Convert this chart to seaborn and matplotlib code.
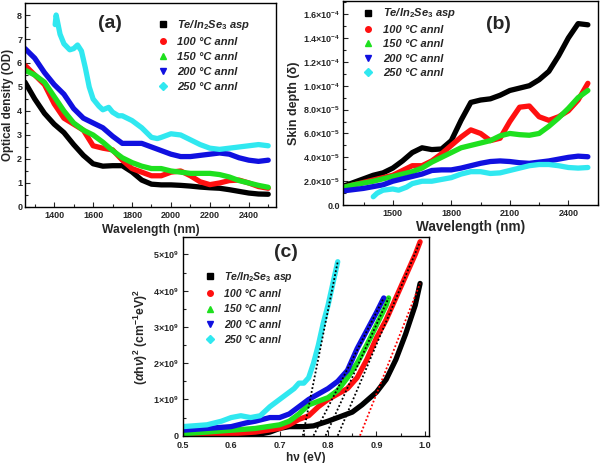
import numpy as np
import pandas as pd
import matplotlib
matplotlib.use("Agg")
import matplotlib.pyplot as plt
import seaborn as sns
from matplotlib.lines import Line2D
from matplotlib.ticker import MultipleLocator, FixedLocator

sns.set_theme(style="ticks")
plt.rcParams['font.family'] = ['Liberation Sans', 'DejaVu Sans']
plt.rcParams['font.weight'] = 'bold'
plt.rcParams['mathtext.fontset'] = 'custom'
plt.rcParams['mathtext.rm'] = 'Liberation Sans:bold'
plt.rcParams['mathtext.bf'] = 'Liberation Sans:bold'
plt.rcParams['mathtext.it'] = 'Liberation Sans:bold:italic'

# ---------------- data ----------------
labels = ["Te/In$_2$Se$_3$ asp", "100 \u00b0C annl", "150 \u00b0C annl", "200 \u00b0C annl", "250 \u00b0C annl"]
colors = ["#000000", "#ff1010", "#1ee01e", "#1010e0", "#30e8f0"]
markers = ["s", "o", "^", "v", "D"]

# (a) optical density
wl_a = [1250, 1300, 1350, 1400, 1450, 1500, 1550, 1600, 1650, 1700, 1750, 1800, 1850,
        1900, 1950, 2000, 2050, 2100, 2150, 2200, 2250, 2300, 2350, 2400, 2450, 2500]
od_asp = [5.2, 4.5, 3.9, 3.45, 3.1, 2.6, 2.15, 1.8, 1.7, 1.72, 1.72, 1.46, 1.12,
          0.95, 0.92, 0.92, 0.9, 0.87, 0.83, 0.8, 0.78, 0.72, 0.65, 0.58, 0.54, 0.53]
od_100 = [5.9, 5.5, 5.1, 4.3, 3.7, 3.45, 3.2, 2.55, 2.45, 2.38, 1.95, 1.6, 1.45,
          1.3, 1.3, 1.45, 1.5, 1.3, 1.05, 0.93, 1.0, 1.1, 1.12, 1.0, 0.85, 0.78]
od_150 = [5.7, 5.5, 5.2, 4.6, 4.0, 3.5, 3.2, 3.0, 2.7, 2.35, 2.05, 1.85, 1.7,
          1.6, 1.6, 1.5, 1.45, 1.4, 1.4, 1.4, 1.35, 1.25, 1.1, 1.0, 0.9, 0.82]
od_200 = [6.6, 6.2, 5.6, 5.1, 4.7, 4.1, 3.7, 3.5, 3.3, 2.95, 2.65, 2.65, 2.65,
          2.5, 2.35, 2.2, 2.1, 2.1, 2.15, 2.2, 2.25, 2.2, 2.05, 1.95, 1.9, 1.95]
wl_a250 = [1405, 1410, 1430, 1450, 1480, 1500, 1520, 1540, 1560, 1580, 1600, 1630, 1650,
           1680, 1700, 1730, 1750, 1800, 1850, 1900, 1930, 1950, 2000, 2050, 2100, 2150,
           2200, 2250, 2300, 2350, 2400, 2450, 2500]
od_250 = [7.6, 8.0, 7.2, 6.8, 6.55, 6.6, 6.75, 6.5, 5.8, 5.0, 4.5, 4.2, 4.05,
          4.15, 3.95, 3.8, 3.8, 3.6, 3.3, 2.9, 2.85, 2.9, 3.05, 3.0, 2.8, 2.6,
          2.45, 2.4, 2.45, 2.5, 2.55, 2.6, 2.55]

# (b) skin depth (x 1e-5)
wl_b = wl_a
sd_asp = [1.6, 1.9, 2.2, 2.5, 2.7, 3.1, 3.7, 4.4, 4.8, 4.65, 4.7, 5.4, 7.1,
          8.6, 8.8, 8.9, 9.2, 9.6, 9.8, 10.0, 10.5, 11.2, 12.5, 14.0, 15.2, 15.1]
sd_100 = [1.5, 1.7, 1.9, 2.1, 2.3, 2.5, 2.9, 3.3, 3.3, 3.7, 4.3, 5.0, 5.7,
          6.3, 6.0, 5.4, 5.6, 7.0, 8.2, 8.3, 7.4, 7.1, 7.4, 7.9, 8.8, 10.2]
sd_150 = [1.5, 1.7, 1.85, 2.0, 2.2, 2.4, 2.6, 2.8, 3.1, 3.6, 4.0, 4.4, 4.8,
          5.0, 5.2, 5.4, 5.8, 6.0, 5.9, 5.85, 6.0, 6.6, 7.3, 8.1, 9.0, 9.6]
sd_200 = [1.2, 1.3, 1.4, 1.55, 1.7, 2.0, 2.2, 2.4, 2.6, 2.9, 2.95, 2.95, 3.1,
          3.3, 3.5, 3.65, 3.7, 3.65, 3.55, 3.5, 3.6, 3.7, 3.85, 4.0, 4.1, 4.05]
wl_b250 = [1400, 1420, 1450, 1500, 1530, 1570, 1600, 1650, 1700, 1750, 1800, 1850, 1900,
           1950, 2000, 2050, 2100, 2150, 2200, 2250, 2300, 2350, 2400, 2450, 2500]
sd_250 = [0.7, 1.0, 1.25, 1.35, 1.25, 1.5, 1.8, 2.0, 2.0, 2.15, 2.3, 2.6, 2.8,
          2.8, 2.65, 2.7, 2.9, 3.1, 3.3, 3.4, 3.4, 3.3, 3.15, 3.1, 3.15]

# (c) Tauc plot (x 1e9)
hv_asp = [0.5, 0.55, 0.6, 0.65, 0.68, 0.7, 0.72, 0.75, 0.77, 0.8, 0.83, 0.85, 0.87,
          0.9, 0.92, 0.94, 0.96, 0.98, 0.99]
ah_asp = [0.0, 0.0, 0.0, 0.02, 0.1, 0.2, 0.25, 0.25, 0.27, 0.4, 0.55, 0.65, 0.85,
          1.2, 1.55, 2.1, 2.8, 3.6, 4.2]
hv_100 = [0.5, 0.6, 0.65, 0.7, 0.72, 0.74, 0.76, 0.78, 0.8, 0.82, 0.84, 0.86, 0.88,
          0.9, 0.92, 0.94, 0.96, 0.98, 0.99]
ah_100 = [0.05, 0.05, 0.1, 0.2, 0.3, 0.45, 0.55, 0.8, 1.0, 1.15, 1.3, 1.6, 2.1,
          2.7, 3.2, 3.8, 4.4, 5.0, 5.35]
hv_150 = [0.5, 0.55, 0.6, 0.65, 0.7, 0.72, 0.74, 0.76, 0.78, 0.8, 0.82, 0.84, 0.86,
          0.88, 0.9, 0.92, 0.925]
ah_150 = [0.05, 0.1, 0.15, 0.2, 0.3, 0.4, 0.6, 0.85, 0.95, 1.05, 1.25, 1.6, 2.0,
          2.5, 3.05, 3.6, 3.8]
hv_200 = [0.5, 0.55, 0.6, 0.63, 0.65, 0.68, 0.7, 0.72, 0.74, 0.76, 0.78, 0.8, 0.82,
          0.84, 0.86, 0.88, 0.9, 0.915]
ah_200 = [0.15, 0.2, 0.25, 0.35, 0.4, 0.5, 0.5, 0.6, 0.8, 1.0, 1.15, 1.3, 1.5,
          1.8, 2.4, 2.9, 3.4, 3.8]
hv_250 = [0.5, 0.55, 0.58, 0.6, 0.62, 0.64, 0.66, 0.68, 0.7, 0.72, 0.73, 0.74, 0.75,
          0.76, 0.77, 0.78, 0.79, 0.8, 0.81, 0.82]
ah_250 = [0.25, 0.3, 0.4, 0.5, 0.55, 0.5, 0.55, 0.8, 1.0, 1.2, 1.3, 1.45, 1.45,
          1.6, 2.0, 2.5, 3.1, 3.6, 4.2, 4.8]
# linear fits (intercept, end point)
fit_x0 = [0.748, 0.77, 0.795, 0.82, 0.866]
fit_x1 = [0.82, 0.915, 0.925, 0.99, 0.99]
fit_y1 = [4.8, 3.8, 3.8, 5.35, 4.2]
fit_col = ["black", "black", "black", "black", "red"]

# ---------------- figure ----------------
fig = plt.figure(figsize=(6.0, 4.63), dpi=100)
ax_a = fig.add_axes([0.0417, 0.553, 0.4183, 0.4405])
ax_b = fig.add_axes([0.5717, 0.557, 0.425, 0.441])
ax_c = fig.add_axes([0.3045, 0.059, 0.411, 0.429])

LW = 3.8

def draw(ax, xs, ys, scale=1.0):
    for x, y, c in zip(xs, ys, colors):
        df = pd.DataFrame({"x": x, "y": np.asarray(y) * scale})
        sns.lineplot(data=df, x="x", y="y", ax=ax, color=c, lw=LW, sort=False,
                     solid_capstyle="round", solid_joinstyle="round", legend=False)

draw(ax_a, [wl_a, wl_a, wl_a, wl_a, wl_a250], [od_asp, od_100, od_150, od_200, od_250])
draw(ax_b, [wl_b, wl_b, wl_b, wl_b, wl_b250], [sd_asp, sd_100, sd_150, sd_200, sd_250], 1e-5)
draw(ax_c, [hv_asp, hv_100, hv_150, hv_200, hv_250], [ah_asp, ah_100, ah_150, ah_200, ah_250], 1e9)
for x0, x1, y1, c in zip(fit_x0, fit_x1, fit_y1, fit_col):
    ax_c.plot([x0, x1], [0, y1 * 1e9], ls=(0, (1, 1.2)), color=c, lw=1.3, zorder=5)

def style(ax):
    for s in ax.spines.values():
        s.set_linewidth(1.0)
        s.set_color("black")
    ax.tick_params(which="both", direction="in", top=False, right=False,
                   labelsize=6.5, width=0.8, pad=2)
    ax.tick_params(which="major", length=3.5)
    ax.tick_params(which="minor", length=2)
    for t in ax.get_xticklabels() + ax.get_yticklabels():
        t.set_fontweight("bold")

def legend(ax, loc, anchor, size=8, spacing=0.45):
    h = [Line2D([], [], marker=m, color=c, ls="none", markersize=4)
         for m, c in zip(markers, colors)]
    ax.legend(h, labels, loc=loc, bbox_to_anchor=anchor, frameon=False,
              prop={"weight": "bold", "style": "italic", "size": size},
              handlelength=1.0, handletextpad=0.8, labelspacing=spacing, borderaxespad=0)

# panel a
ax_a.set_xlim(1250, 2540)
ax_a.set_ylim(0, 8.5)
ax_a.xaxis.set_major_locator(FixedLocator([1400, 1600, 1800, 2000, 2200, 2400]))
ax_a.xaxis.set_minor_locator(MultipleLocator(100))
ax_a.yaxis.set_major_locator(MultipleLocator(1))
ax_a.yaxis.set_minor_locator(MultipleLocator(0.5))
ax_a.set_xlabel("Wavelength (nm)", fontsize=8.7, fontweight="bold", labelpad=3)
ax_a.set_ylabel("Optical density (OD)", fontsize=8.4, fontweight="bold", labelpad=2)
style(ax_a)
ax_a.tick_params(axis="x", pad=3)
legend(ax_a, "upper left", (0.51, 0.95))
ax_a.text(0.34, 0.9, "(a)", transform=ax_a.transAxes, fontsize=14, fontweight="bold",
          ha="center", va="center")

# panel b
ax_b.set_xlim(1245, 2552)
ax_b.set_ylim(0, 1.71e-4)
ax_b.xaxis.set_major_locator(FixedLocator([1500, 1800, 2100, 2400]))
ax_b.xaxis.set_minor_locator(MultipleLocator(150))
yt_b = [0, 2e-5, 4e-5, 6e-5, 8e-5, 1e-4, 1.2e-4, 1.4e-4, 1.6e-4]
yl_b = ["0.0", r"2.0$\times$10$^{-5}$", r"4.0$\times$10$^{-5}$", r"6.0$\times$10$^{-5}$",
        r"8.0$\times$10$^{-5}$", r"1.0$\times$10$^{-4}$", r"1.2$\times$10$^{-4}$",
        r"1.4$\times$10$^{-4}$", r"1.6$\times$10$^{-4}$"]
ax_b.set_yticks(yt_b)
ax_b.set_yticklabels(yl_b)
ax_b.yaxis.set_minor_locator(MultipleLocator(1e-5))
ax_b.set_xlabel("Wavelength (nm)", fontsize=9.8, fontweight="bold", labelpad=1)
ax_b.set_ylabel("Skin depth (\u03b4)", fontsize=9, fontweight="bold", labelpad=2)
style(ax_b)
ax_b.tick_params(axis="x", pad=3)
legend(ax_b, "upper left", (0.06, 0.995), spacing=0.4)
ax_b.text(0.61, 0.885, "(b)", transform=ax_b.transAxes, fontsize=14, fontweight="bold",
          ha="center", va="center")

# panel c
ax_c.set_xlim(0.5, 1.009)
ax_c.set_ylim(0, 5.48e9)
ax_c.xaxis.set_major_locator(MultipleLocator(0.1))
ax_c.xaxis.set_minor_locator(MultipleLocator(0.05))
yt_c = [0, 1e9, 2e9, 3e9, 4e9, 5e9]
yl_c = ["0"] + [r"%d$\times$10$^{9}$" % i for i in range(1, 6)]
ax_c.set_yticks(yt_c)
ax_c.set_yticklabels(yl_c)
ax_c.yaxis.set_minor_locator(MultipleLocator(0.5e9))
ax_c.set_xlabel("h\u03bd (eV)", fontsize=8.5, fontweight="bold", labelpad=1)
ax_c.set_ylabel(r"($\alpha$h$\nu$)$^2$ (cm$^{-1}$eV)$^2$", fontsize=8.8, fontweight="bold", labelpad=2)
style(ax_c)
ax_c.tick_params(axis="y", pad=3)
ax_c.tick_params(axis="x", pad=4)
legend(ax_c, "upper left", (0.072, 0.857), size=7.6, spacing=0.5)
ax_c.text(0.42, 0.92, "(c)", transform=ax_c.transAxes, fontsize=14, fontweight="bold",
          ha="center", va="center")

fig.savefig("out.png", dpi=100)
